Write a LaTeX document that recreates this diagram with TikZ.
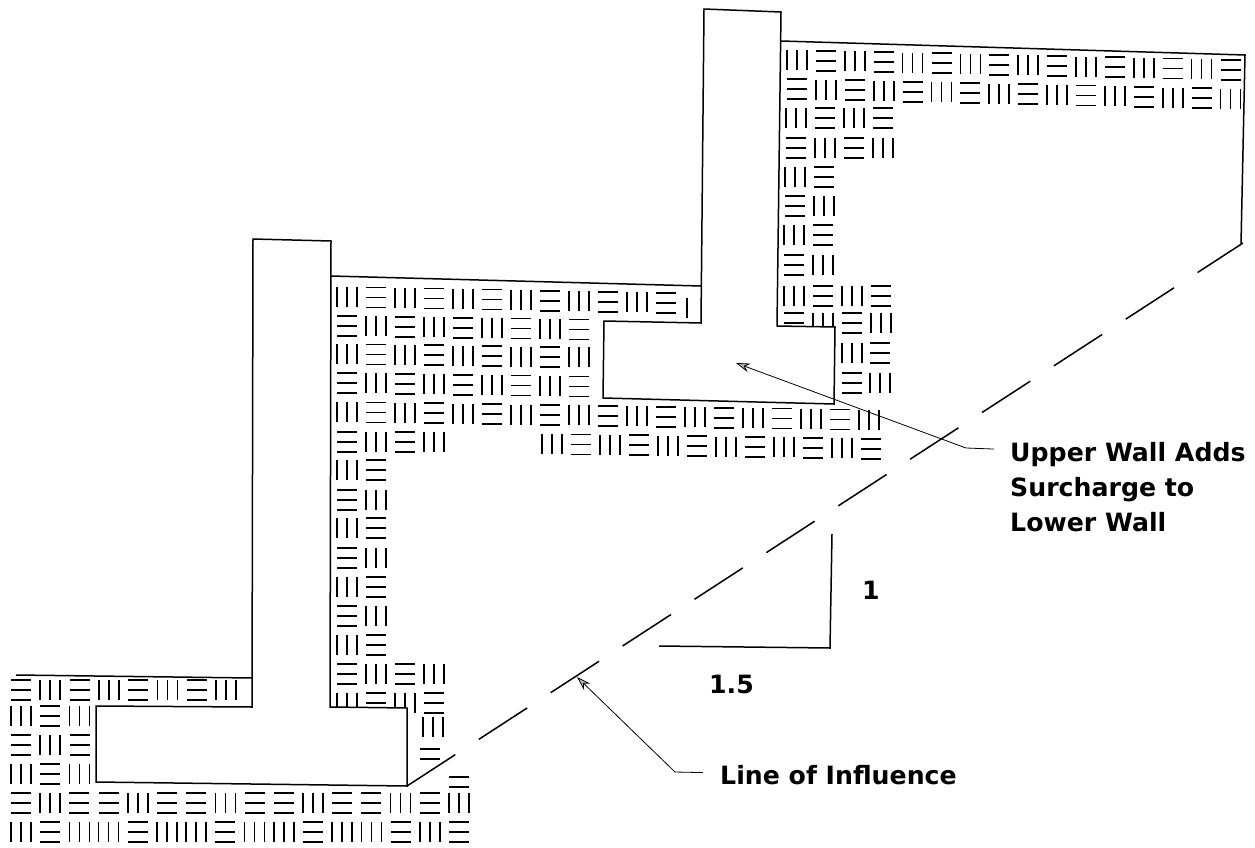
\documentclass[tikz,border=0pt]{standalone}
\usepackage{fontspec}
\setmainfont{DejaVu Sans}
\usetikzlibrary{arrows.meta}
\tikzset{
  hatchline/.style={line width=1.7pt,black},
  wall/.style={draw=black,fill=white,line width=1.5pt,line join=miter},
  ground/.style={draw=black,line width=1.5pt},
  leader/.style={draw=black,line width=.8pt,-{Stealth[length=14pt,width=9pt,fill=gray!55]}},
  influence/.style={draw=black,line width=1.5pt,dash pattern=on 57.6pt off 28.1pt},
  caption/.style={anchor=base west,inner sep=0pt,font=\fontsize{25.2}{30}\selectfont\bfseries},
  pics/barsv/.style={code={\draw[hatchline] (-10,-10) -- (-10,10) (0,-10) -- (0,10) (10,-10) -- (10,10);}},
  pics/barsh/.style={code={\draw[hatchline] (-10,-10) -- (10,-10) (-10,0) -- (10,0) (-10,10) -- (10,10);}},
  pics/barst/.style={code={\draw[hatchline] (-10,-5) -- (10,-5) (-10,5) -- (10,5);}},
  pics/barso/.style={code={\draw[hatchline] (0,-10) -- (0,10);}},
}
\newcommand{\hatchrow}[5]{
  \foreach \k [count=\i from 0] in {#5} {
    \pic at ({#1+\i*#3},{#2+\i*#3*#4}) {bars\k};
  }
}
\begin{document}
\begin{tikzpicture}[x=1pt,y=-1pt]
\useasboundingbox (0,0) rectangle (1255,848);

\hatchrow{21}{690}{29.3}{0}{h,v,h,v,h,v,h,v}
\hatchrow{21}{716}{29.3}{0}{v,h,v}
\hatchrow{21}{745}{29.3}{0}{h,v,h}
\hatchrow{21}{774}{29.3}{0}{v,h,v}
\hatchrow{21}{803}{29.2}{0}{h,v,h,h,v,h,h,v,h,h,v,h,h,v,h,v}
\hatchrow{21}{832}{29.2}{0}{v,h,v,v,h,v,v,h,v,v,h,v,v,h,v,h}
\pic at (430,754) {barst};
\pic at (459,782) {barst};
\pic at (433,727) {barsv};

\hatchrow{347}{297}{29}{.018}{v,h,v,h,v,h,v,h,v,h,v,h}
\pic at (687,308) {barso};
\hatchrow{347}{326}{29}{.015}{h,v,h,v,h,v,h,v,h}
\hatchrow{347}{354}{29}{.015}{v,h,v,h,v,h,v,h,v}
\hatchrow{347}{383}{29}{.015}{h,v,h,v,h,v,h,v,h}
\hatchrow{347}{412}{29}{.015}{v,h,v,h,v,h,v,h,v,h,v,h,v,h,v,h,v,h,v}
\hatchrow{347}{442}{29}{0}{h,v,h,v}
\hatchrow{552}{444}{29}{.015}{v,h,v,h,v,h,v,h,v,h,v,h}
\hatchrow{347}{470}{29}{0}{v,h}
\hatchrow{347}{500}{29}{0}{h,v}
\hatchrow{347}{528}{29}{0}{v,h}
\hatchrow{347}{558}{29}{0}{h,v}
\hatchrow{347}{587}{29}{0}{v,h}
\hatchrow{347}{616}{29}{0}{h,v}
\hatchrow{347}{645}{29}{0}{v,h}
\hatchrow{347}{674}{29}{0}{h,v,h,v}
\hatchrow{347}{703}{29}{0}{v,h,v,h}

\hatchrow{797}{60}{28.9}{.023}{v,h,v,h,v,h,v,h,v,h,v,h,v,h,v,h}
\hatchrow{797}{89}{28.9}{.023}{h,v,h,v,h,v,h,v,h,v,h,v,h,v,h,v}
\hatchrow{796}{118}{29}{0}{v,h,v,h}
\hatchrow{796}{148}{29}{0}{h,v,h,v}
\hatchrow{795}{177}{29}{0}{v,h}
\hatchrow{795}{206}{29}{0}{h,v}
\hatchrow{794}{235}{29}{0}{v,h}
\hatchrow{794}{265}{29}{0}{h,v}
\hatchrow{794}{296}{29}{0}{v,h,v,h}
\hatchrow{794}{323}{29}{0}{h,v,h,v}
\hatchrow{852}{353}{28}{0}{v,h}
\hatchrow{852}{383}{28}{0}{h,v}

\draw[ground] (16,675) -- (252,678);
\draw[ground] (331,276) -- (701,286);
\draw[ground] (781,41) -- (1245,55) -- (1241,244);

\draw[wall] (253,239) -- (331,241) -- (330,707) -- (407,708) -- (407,786) -- (96,782) -- (96,706) -- (252,707) -- cycle;
\draw[wall] (704,9) -- (781,12) -- (777,326) -- (835,327) -- (834,404) -- (603,398) -- (604,321) -- (701,323) -- cycle;

\draw[ground] (659,646) -- (830,648) -- (832,534);

\coordinate (toe) at (407,786);
\coordinate (crest) at (1243,243);
\draw[influence] (toe) -- (crest);

\node[caption] (adds) at (1010,461) {Upper Wall Adds};
\node[caption] (surcharge) at (1010,496) {Surcharge to};
\node[caption] (lower) at (1010,531) {Lower Wall};
\node[caption] (one) at (862,599) {1};
\node[caption] (ratio) at (709,693) {1.5};
\node[caption] (line) at (720,784) {Line of Influence};

\coordinate (padtip) at (736,363);
\coordinate (padbend) at (966,448);
\coordinate (slopetip) at (577,677);
\coordinate (slopebend) at (675,772);
\draw[leader] ([xshift=-16pt,yshift=5pt] adds.west) -- (padbend) -- (padtip);
\draw[leader] ([xshift=-17pt,yshift=2pt] line.west) -- (slopebend) -- (slopetip);
\end{tikzpicture}
\end{document}
